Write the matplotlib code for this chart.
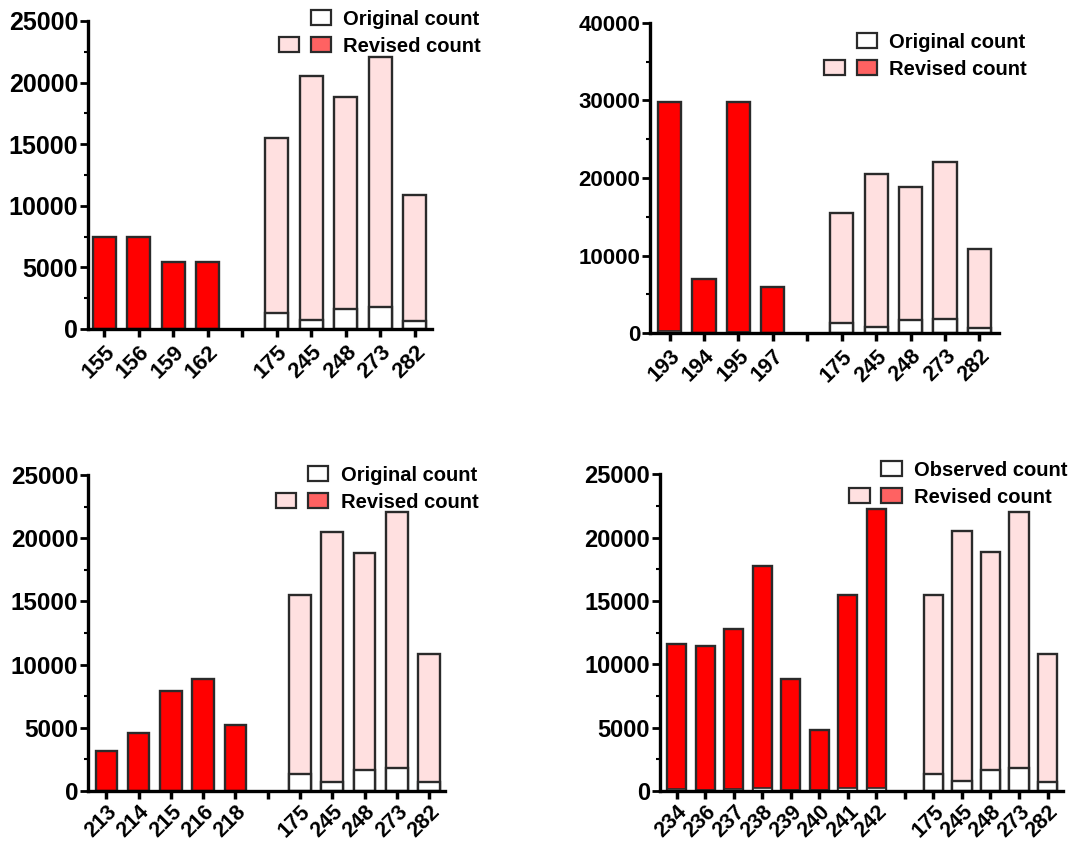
import numpy as np
import matplotlib
matplotlib.use("Agg")
import matplotlib.pyplot as plt
import matplotlib.transforms as mtransforms
from matplotlib.patches import Patch
from matplotlib.legend_handler import HandlerTuple
from matplotlib.ticker import MultipleLocator

plt.rcParams['font.family'] = ['Liberation Sans', 'DejaVu Sans']
plt.rcParams['font.weight'] = 'bold'

# shared categories (right group in every panel)
shared_labels = ['175', '245', '248', '273', '282']
shared_revised = [15500, 20500, 18850, 22050, 10850]
shared_original = [1320, 750, 1650, 1800, 680]

# panel A
a_labels = ['155', '156', '159', '162']
a_revised = [7450, 7450, 5450, 5450]
a_original = [0, 0, 0, 0]

# panel B
b_labels = ['193', '194', '195', '197']
b_revised = [29800, 7000, 29850, 6000]
b_original = [250, 0, 120, 0]

# panel C
c_labels = ['213', '214', '215', '216', '218']
c_revised = [3150, 4600, 7900, 8900, 5250]
c_original = [0, 0, 0, 0, 0]

# panel D
d_labels = ['234', '236', '237', '238', '239', '240', '241', '242']
d_revised = [11600, 11450, 12750, 17750, 8850, 4800, 15500, 22250]
d_original = [150, 100, 150, 200, 100, 50, 200, 250]

RED = '#FF0000'
PINK = '#FFE0E0'
LEG_RED = '#FF6262'
EDGE = '#2a2a2a'

fig = plt.figure(figsize=(10.86, 8.44), dpi=100)

panels = [
    # labels, revised, original, ymax, major, rect, legend labels, legend anchor, xpad, xfs, yfs, xpadpts
    (a_labels, a_revised, a_original, 25000, 5000,
     [0.081, 0.6102, 0.3168, 0.365], ('Original count', 'Revised count'), (0.555, 1.037), (0.47, 0.5), 16, 18, 3),
    (b_labels, b_revised, b_original, 40000, 10000,
     [0.5985, 0.6051, 0.3214, 0.368], ('Original count', 'Revised count'), (0.50, 0.968), (0.57, 0.57), 15.5, 16, 3),
    (c_labels, c_revised, c_original, 25000, 5000,
     [0.081, 0.0628, 0.3287, 0.3744], ('Original count', 'Revised count'), (0.527, 1.03), (0.57, 0.49), 15.5, 17.5, 1.5),
    (d_labels, d_revised, d_original, 25000, 5000,
     [0.6077, 0.0628, 0.3708, 0.3752], ('Observed count', 'Revised count'), (0.47, 1.043), (0.59, 0.53), 15.5, 17, 1.5),
]

shift = mtransforms.ScaledTranslation(-6 / 100, 0, fig.dpi_scale_trans)

for labels, rev, orig, ymax, major, rect, leg_labels, anchor, xpad, xfs, yfs, xlp in panels:
    ax = fig.add_axes(rect)
    n_left = len(labels)
    all_labels = labels + [''] + shared_labels
    x = np.arange(len(all_labels))
    xl = np.array(list(range(n_left)))
    xs = np.arange(n_left + 1, len(all_labels))
    w = 0.67
    ax.bar(xl, rev, width=w, color=RED, edgecolor=EDGE, linewidth=1.7, zorder=2)
    ax.bar(xs, shared_revised, width=w, color=PINK, edgecolor=EDGE, linewidth=1.7, zorder=2)
    orig_l = [v if v > 0 else np.nan for v in orig]
    ax.bar(xl, orig_l, width=w, color='white', edgecolor=EDGE, linewidth=1.2, zorder=3)
    ax.bar(xs, shared_original, width=w, color='white', edgecolor=EDGE, linewidth=1.7, zorder=3)

    ax.set_xlim(-xpad[0], len(all_labels) - 1 + xpad[1])
    ax.set_ylim(0, ymax)
    ax.yaxis.set_major_locator(MultipleLocator(major))
    ax.yaxis.set_minor_locator(MultipleLocator(major / 2))
    ax.set_xticks(x)
    ax.set_xticklabels(all_labels, rotation=45, ha='right', rotation_mode='anchor',
                       fontsize=xfs, fontweight='bold')
    for lab in ax.get_xticklabels():
        lab.set_transform(lab.get_transform() + shift)
    for lab in ax.get_yticklabels():
        lab.set_fontsize(yfs)
        lab.set_fontweight('bold')
    ax.tick_params(axis='x', length=6, width=2.5, pad=xlp)
    ax.tick_params(axis='y', which='major', length=6, width=2, pad=1, labelsize=yfs)
    ax.tick_params(axis='y', which='minor', length=3, width=1.5)
    for s in ['top', 'right']:
        ax.spines[s].set_visible(False)
    for s in ['left', 'bottom']:
        ax.spines[s].set_linewidth(2.4)
        ax.spines[s].set_zorder(4)

    h_orig = (Patch(facecolor='none', edgecolor='none'),
              Patch(facecolor='white', edgecolor=EDGE, linewidth=1.6))
    h_rev = (Patch(facecolor=PINK, edgecolor=EDGE, linewidth=1.6),
             Patch(facecolor=LEG_RED, edgecolor=EDGE, linewidth=1.6))
    ax.legend([h_orig, h_rev], list(leg_labels),
              handler_map={tuple: HandlerTuple(ndivide=None, pad=0.58)},
              loc='upper left', bbox_to_anchor=anchor, frameon=False,
              borderpad=0, borderaxespad=0, handlelength=2.6, handleheight=0.75,
              handletextpad=0.6, labelspacing=0.4,
              prop={'size': 14.5, 'weight': 'bold'})

fig.savefig('out.png', dpi=100, facecolor='white')
